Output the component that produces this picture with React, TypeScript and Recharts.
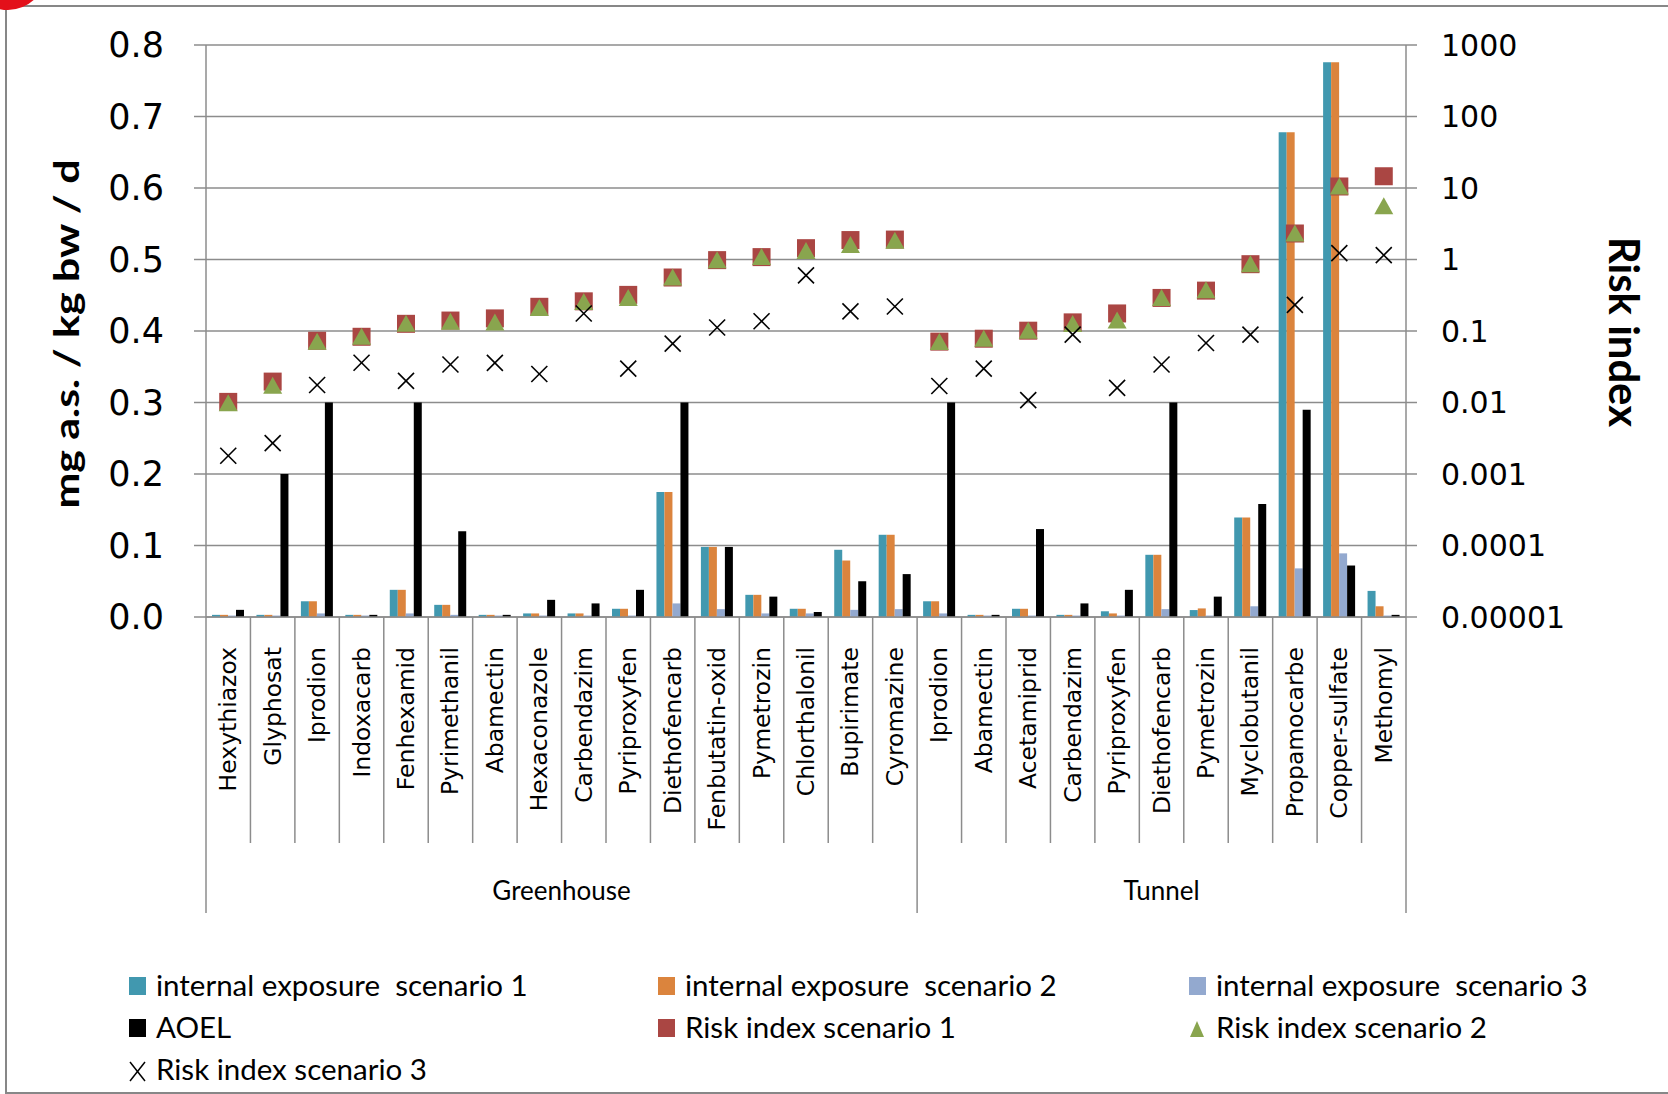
import React from 'react';
import { ComposedChart, Bar, Line, XAxis, YAxis, CartesianGrid } from 'recharts';

const greenhouse = [
  'Hexythiazox', 'Glyphosat', 'Iprodion', 'Indoxacarb', 'Fenhexamid', 'Pyrimethanil', 'Abamectin', 'Hexaconazole',
  'Carbendazim', 'Pyriproxyfen', 'Diethofencarb', 'Fenbutatin-oxid', 'Pymetrozin', 'Chlorthalonil', 'Bupirimate', 'Cyromazine',
];
const tunnel = [
  'Iprodion', 'Abamectin', 'Acetamiprid', 'Carbendazim', 'Pyriproxyfen', 'Diethofencarb', 'Pymetrozin', 'Myclobutanil',
  'Propamocarbe', 'Copper-sulfate', 'Methomyl',
];
const groupNames = ['Greenhouse', 'Tunnel'];

// mg a.s. / kg bw / d (left axis)
const exposure1 = [0.003, 0.003, 0.022, 0.003, 0.038, 0.017, 0.003, 0.005, 0.005, 0.0115, 0.175, 0.098, 0.031, 0.0115, 0.094, 0.115,
  0.022, 0.003, 0.0115, 0.003, 0.008, 0.087, 0.0097, 0.139, 0.678, 0.776, 0.0365];
const exposure2 = [0.003, 0.003, 0.022, 0.003, 0.038, 0.017, 0.003, 0.005, 0.005, 0.0115, 0.175, 0.098, 0.031, 0.0115, 0.079, 0.115,
  0.022, 0.003, 0.0115, 0.003, 0.005, 0.087, 0.012, 0.139, 0.678, 0.776, 0.015];
const exposure3 = [0.002, 0.002, 0.005, 0.002, 0.005, 0.003, 0.002, 0.002, 0.002, 0.002, 0.019, 0.011, 0.005, 0.005, 0.01, 0.011,
  0.005, 0.002, 0.002, 0.002, 0.002, 0.011, 0.002, 0.015, 0.068, 0.089, 0.002];
const aoel = [0.01, 0.2, 0.3, 0.003, 0.3, 0.12, 0.003, 0.024, 0.019, 0.038, 0.3, 0.098, 0.0285, 0.007, 0.05, 0.06,
  0.3, 0.003, 0.123, 0.019, 0.038, 0.3, 0.0285, 0.158, 0.29, 0.072, 0.003];

// risk index (right log axis)
const risk1 = [0.0102, 0.0196, 0.073, 0.083, 0.126, 0.14, 0.15, 0.218, 0.26, 0.32, 0.56, 0.98, 1.08, 1.44, 1.87, 1.9,
  0.071, 0.078, 0.101, 0.132, 0.176, 0.29, 0.367, 0.86, 2.31, 10.5, 14.6];
const risk2 = [0.0098, 0.0172, 0.071, 0.083, 0.126, 0.135, 0.132, 0.21, 0.255, 0.29, 0.56, 0.98, 1.08, 1.31, 1.6, 1.83,
  0.07, 0.078, 0.101, 0.125, 0.14, 0.29, 0.37, 0.86, 2.31, 10.5, 5.57];
const risk3 = [0.0018, 0.0027, 0.0176, 0.036, 0.0201, 0.034, 0.0358, 0.025, 0.176, 0.0298, 0.0665, 0.112, 0.137, 0.6, 0.188, 0.22,
  0.017, 0.0298, 0.0108, 0.089, 0.016, 0.034, 0.068, 0.089, 0.232, 1.23, 1.15];

const leftTicks = [0, 0.1, 0.2, 0.3, 0.4, 0.5, 0.6, 0.7, 0.8];
const rightTicks = [0.00001, 0.0001, 0.001, 0.01, 0.1, 1, 10, 100, 1000];

const C1 = '#4198AF';
const C2 = '#DB843D';
const C3 = '#93A9CF';
const RED = '#AA4643';
const GREEN = '#89A54E';
const GRID = '#8c8c8c';

const legendItems = [
  { label: 'internal exposure  scenario 1', color: C1, shape: 'rect' },
  { label: 'internal exposure  scenario 2', color: C2, shape: 'rect' },
  { label: 'internal exposure  scenario 3', color: C3, shape: 'rect' },
  { label: 'AOEL', color: '#000', shape: 'rect' },
  { label: 'Risk index scenario 1', color: RED, shape: 'rect' },
  { label: 'Risk index scenario 2', color: GREEN, shape: 'triangle' },
  { label: 'Risk index scenario 3', color: '#000', shape: 'cross' },
];

const names = [...greenhouse, ...tunnel];
const groupOf = [...greenhouse.map(() => groupNames[0]), ...tunnel.map(() => groupNames[1])];

const data = names.map((name, i) => ({
  key: `${groupOf[i]}:${name}`,
  name,
  group: groupOf[i],
  e1: exposure1[i],
  e2: exposure2[i],
  e3: exposure3[i],
  aoel: aoel[i],
  r1: risk1[i],
  r2: risk2[i],
  r3: risk3[i],
}));

const groupCenters = groupNames.map((g) => {
  const first = groupOf.indexOf(g);
  const last = groupOf.lastIndexOf(g);
  return { name: g, center: (first + last) / 2 };
});

const W = 1668;
const H = 1094;
const LEFT_W = 206;
const RIGHT_W = 262;
const BAND_HALF = (W - LEFT_W - RIGHT_W) / names.length / 2;

function CategoryTick(props: any) {
  const { x, y, payload } = props;
  const i = payload?.index ?? props.index;
  const half = payload?.offset || BAND_HALF;
  const row = data[i];
  const last = i === data.length - 1;
  const groupEnd = last || data[i + 1].group !== row.group;
  const gc = groupCenters.find((g) => Math.floor(g.center) === i);
  return (
    <g>
      {i === 0 && <line x1={x - half} x2={x - half} y1={y} y2={y + 296} stroke={GRID} strokeWidth={1.5} />}
      <line x1={x + half} x2={x + half} y1={y} y2={y + (groupEnd ? 296 : 226)} stroke={GRID} strokeWidth={1.5} />
      <text
        x={x}
        y={y + 30}
        transform={`rotate(-90 ${x} ${y + 30})`}
        textAnchor="end"
        dominantBaseline="central"
        fontFamily="DejaVu Sans"
        fontSize={23.5}
        fill="#000"
      >
        {row.name}
      </text>
      {gc && (
        <text
          x={x + (gc.center - i) * 2 * half}
          y={y + 283}
          textAnchor="middle"
          fontFamily="Lato"
          fontSize={26}
          fill="#000"
        >
          {gc.name}
        </text>
      )}
    </g>
  );
}

const squareDot = (p: any) => (
  <rect key={`s${p.index}`} x={p.cx - 9} y={p.cy - 9} width={18} height={18} fill={RED} />
);
const triangleDot = (p: any) => (
  <polygon
    key={`t${p.index}`}
    points={`${p.cx},${p.cy - 9} ${p.cx + 9.5},${p.cy + 8} ${p.cx - 9.5},${p.cy + 8}`}
    fill={GREEN}
  />
);
const crossDot = (p: any) => (
  <g key={`c${p.index}`} stroke="#000" strokeWidth={1.6}>
    <line x1={p.cx - 8} y1={p.cy - 8} x2={p.cx + 8} y2={p.cy + 8} />
    <line x1={p.cx - 8} y1={p.cy + 8} x2={p.cx + 8} y2={p.cy - 8} />
  </g>
);

function LegendMarker({ shape, color, x, y }: any) {
  if (shape === 'triangle') {
    return <polygon points={`${x + 8},${y - 17} ${x + 15},${y - 1} ${x + 1},${y - 1}`} fill={color} />;
  }
  if (shape === 'cross') {
    return (
      <g stroke={color} strokeWidth={1.5}>
        <line x1={x + 1} y1={y - 18} x2={x + 16} y2={y + 1} />
        <line x1={x + 1} y1={y + 1} x2={x + 16} y2={y - 18} />
      </g>
    );
  }
  return <rect x={x} y={y - 19} width={17} height={18} fill={color} />;
}

const legendCols = [129, 658, 1189];
const legendRows = [996, 1038, 1080];

export default function App() {
  return (
    <div style={{ position: 'absolute', left: 0, top: 0, width: W, height: H, overflow: 'hidden', background: '#fff' }}>
      <div
        style={{
          position: 'absolute', left: 5, top: 5, width: 1700, height: 1089,
          border: '2px solid #878787', boxSizing: 'border-box',
        }}
      />
      <div style={{ position: 'absolute', left: 0, top: 0 }}>
        <ComposedChart
          width={W}
          height={H}
          data={data}
          margin={{ top: 45, right: 0, bottom: 177, left: 0 }}
          barGap={0}
        >
          <CartesianGrid yAxisId="left" horizontal vertical={false} stroke={GRID} strokeWidth={1.5} />
          <XAxis
            dataKey="key"
            interval={0}
            height={300}
            tickSize={0}
            tickMargin={0}
            tickLine={false}
            axisLine={{ stroke: GRID, strokeWidth: 1.5 }}
            tick={<CategoryTick />}
          />
          <YAxis
            yAxisId="left"
            orientation="left"
            width={LEFT_W}
            domain={[0, 0.8]}
            ticks={leftTicks}
            tickFormatter={(v: number) => v.toFixed(1)}
            tickSize={12}
            tickMargin={30}
            tickLine={{ stroke: GRID, strokeWidth: 1.5 }}
            axisLine={{ stroke: GRID, strokeWidth: 1.5 }}
            tick={{ fontFamily: 'DejaVu Sans', fontSize: 35, fill: '#000' }}
          />
          <YAxis
            yAxisId="right"
            orientation="right"
            width={RIGHT_W}
            scale="log"
            domain={[0.00001, 1000]}
            allowDataOverflow
            ticks={rightTicks}
            tickFormatter={(v: number) => String(v)}
            tickSize={11}
            tickMargin={24}
            tickLine={{ stroke: GRID, strokeWidth: 1.5 }}
            axisLine={{ stroke: GRID, strokeWidth: 1.5 }}
            tick={{ fontFamily: 'DejaVu Sans', fontSize: 30, fill: '#000' }}
          />
          <Bar yAxisId="left" dataKey="e1" fill={C1} barSize={8} isAnimationActive={false} />
          <Bar yAxisId="left" dataKey="e2" fill={C2} barSize={8} isAnimationActive={false} />
          <Bar yAxisId="left" dataKey="e3" fill={C3} barSize={8} isAnimationActive={false} />
          <Bar yAxisId="left" dataKey="aoel" fill="#000" barSize={8} isAnimationActive={false} />
          <Line yAxisId="right" dataKey="r1" stroke="none" dot={squareDot} activeDot={false} isAnimationActive={false} />
          <Line yAxisId="right" dataKey="r2" stroke="none" dot={triangleDot} activeDot={false} isAnimationActive={false} />
          <Line yAxisId="right" dataKey="r3" stroke="none" dot={crossDot} activeDot={false} isAnimationActive={false} />
        </ComposedChart>
      </div>
      <svg width={W} height={H} style={{ position: 'absolute', left: 0, top: 0, pointerEvents: 'none' }}>
        <text
          x={65}
          y={334}
          transform="rotate(-90 65 334)"
          textAnchor="middle"
          dominantBaseline="central"
          fontFamily="Lato"
          fontWeight={700}
          fontSize={35}
          textLength={349}
          lengthAdjust="spacingAndGlyphs"
          fill="#000"
        >
          mg a.s. / kg bw / d
        </text>
        <text
          x={1625}
          y={332}
          transform="rotate(90 1625 332)"
          textAnchor="middle"
          dominantBaseline="central"
          fontFamily="Lato"
          fontWeight={700}
          fontSize={42}
          textLength={190}
          lengthAdjust="spacingAndGlyphs"
          fill="#000"
        >
          Risk index
        </text>
        {legendItems.map((item, i) => {
          const x = legendCols[i % 3];
          const y = legendRows[Math.floor(i / 3)];
          return (
            <g key={item.label}>
              <LegendMarker shape={item.shape} color={item.color} x={x} y={y} />
              <text x={x + 27} y={y} fontFamily="Lato" fontSize={29.5} fill="#000" style={{ whiteSpace: 'pre' }}>
                {item.label}
              </text>
            </g>
          );
        })}
      </svg>
      <div
        style={{
          position: 'absolute', left: -30, top: -66, width: 76, height: 76,
          borderRadius: '50%', background: '#e3101a',
        }}
      />
    </div>
  );
}
